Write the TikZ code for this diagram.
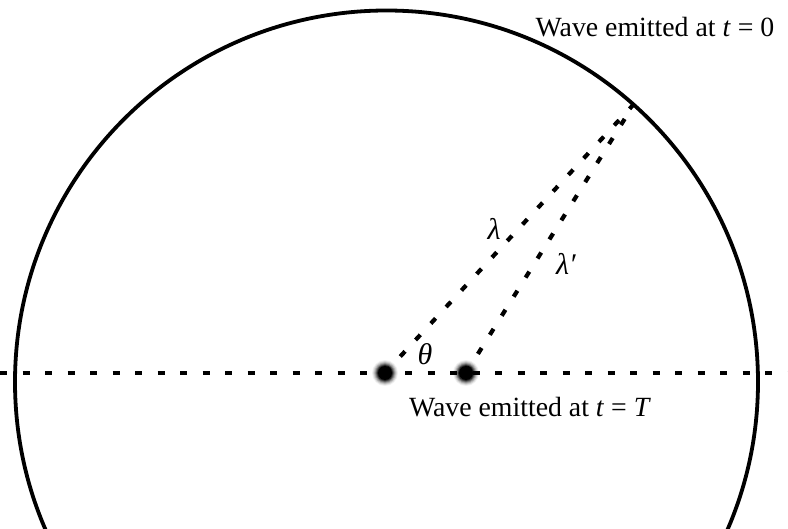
\documentclass[tikz,border=0pt]{standalone}
\usepackage{fontspec}
\setmainfont{Liberation Serif}
\begin{document}
\begin{tikzpicture}[x=1pt,y=-1pt,
  wave/.style={line width=3.8pt},
  dotted line/.style={line width=4.2pt, dash pattern=on 7pt off 15.5pt},
  lbl/.style={font=\fontsize{27.8}{30}\selectfont, inner sep=0pt},
  glabel/.style={font=\fontsize{30}{32}\selectfont\itshape, inner sep=0pt}]
\useasboundingbox (0,0) rectangle (788,529);
\begin{scope}
\clip (0,0) rectangle (788,529);
\coordinate (C) at (386.5,382);
\draw[wave] (C) circle (371.5);
\end{scope}
\coordinate (L) at (0,373);
\coordinate (R) at (788,373);
\coordinate (P) at (634,104);
\coordinate (A) at (385,373);
\coordinate (B) at (466,373);
\draw[dotted line] (L) -- (R);
\draw[dotted line] (A) -- (P);
\draw[dotted line] (B) -- (P);
\foreach \n in {A,B}{
  \foreach \r/\o in {13/0.06,12/0.1,11/0.15,10/0.22,9/0.35,8/0.55,7/1}{
    \fill[black, opacity=\o] (\n) circle (\r);
  }
}
\node[glabel] (lam) at (494,229) {λ};
\node[glabel] (lamp) at (566,264) {λ′};
\node[glabel] (th) at (425,354) {θ};
\node[lbl, anchor=base] (top) at (655,37) {Wave emitted at \textit{t} = 0};
\node[lbl, anchor=base] (bot) at (530,417) {Wave emitted at \textit{t} = \textit{T}};
\end{tikzpicture}
\end{document}
